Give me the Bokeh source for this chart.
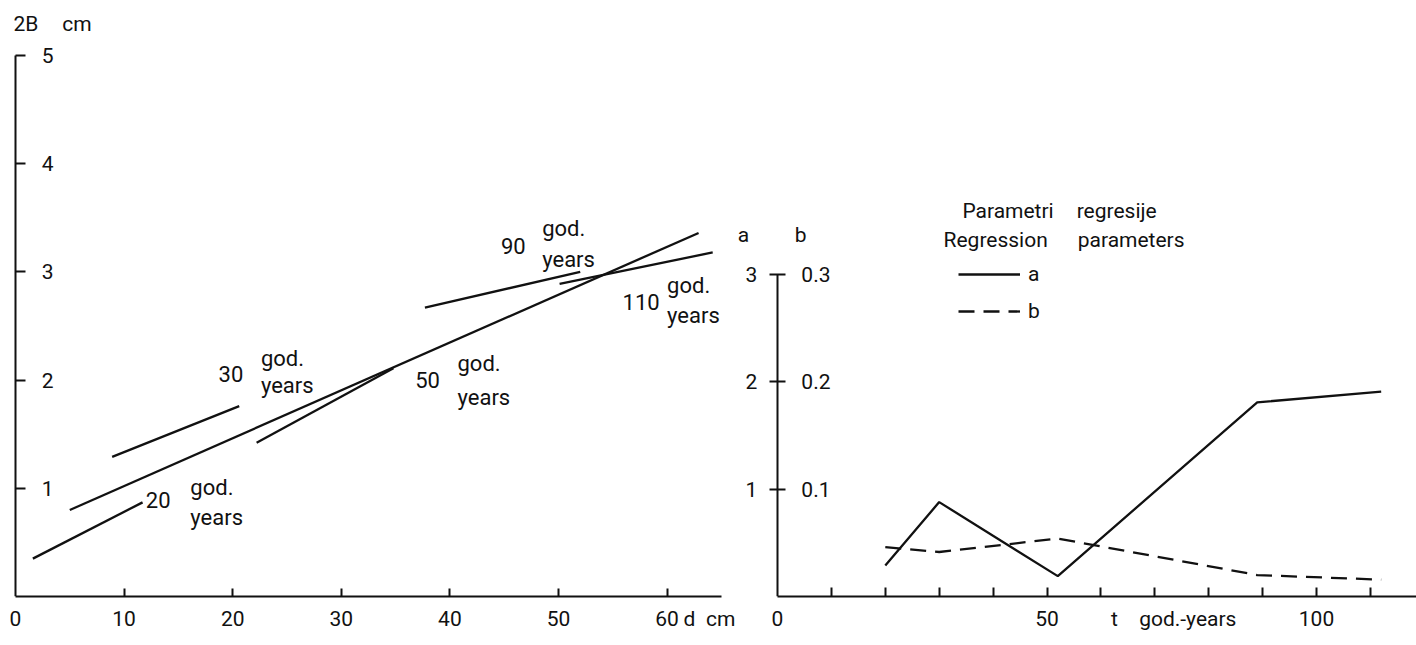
from bokeh.plotting import figure
from bokeh.models import Range1d, LinearAxis, FixedTicker, Legend, LegendItem
from bokeh.layouts import row
from bokeh.embed import file_html
from bokeh.resources import INLINE
from bokeh.core.properties import value

# ---------------- data: left panel, 2B (cm) against d (cm), regression lines
seg_d_start = [1.6, 8.9, 5.0, 22.2, 37.7, 50.1]
seg_2b_start = [0.35, 1.29, 0.80, 1.42, 2.67, 2.89]
seg_d_end = [11.7, 20.6, 62.9, 34.8, 52.0, 64.2]
seg_2b_end = [0.87, 1.76, 3.36, 2.11, 3.00, 3.18]
age_labels = ["20", "30", "50", "90", "110"]
d_ticks = [0, 10, 20, 30, 40, 50, 60]
twoB_ticks = [1, 2, 3, 4, 5]

# ---------------- data: right panel, regression parameters against age t
t_years = [20, 30, 52, 89, 112]
a_values = [0.29, 0.88, 0.19, 1.81, 1.91]
b_values = [0.046, 0.0415, 0.054, 0.020, 0.0157]
t_ticks = [0, 50, 100]
t_minor = [10, 20, 30, 40, 50, 60, 70, 80, 90, 100, 110]
a_ticks = [1, 2, 3]
b_ticks = [0.1, 0.2, 0.3]

FONT = "Roboto"
INK = "#111111"
TICK_FS = "21px"
ANN_FS = "22px"

H = 645
W1 = 735
W2 = 1416 - W1

# ---------------- left figure
L_X0 = 15.0      # pixel of d = 0
L_PXD = 10.86    # px per cm of d
L_Y0 = 596.0     # pixel of 2B = 0
L_PXB = 108.2    # px per cm of 2B

p1 = figure(width=W1, height=H,
            x_range=Range1d(-L_X0 / L_PXD, (W1 - L_X0) / L_PXD),
            y_range=Range1d(0, L_Y0 / L_PXB),
            x_axis_type=None, y_axis_type=None,
            output_backend="svg", toolbar_location=None,
            min_border_left=0, min_border_right=0, min_border_top=0,
            min_border_bottom=int(H - L_Y0))
p1.outline_line_color = None

D_LABEL_POS = 64.1
xax1 = LinearAxis(ticker=FixedTicker(ticks=d_ticks + [D_LABEL_POS], minor_ticks=d_ticks[1:]),
                  bounds=(0, 65),
                  major_label_overrides={D_LABEL_POS: "d\u2002cm"})
xax1.major_tick_in = 0
xax1.major_tick_out = 0
xax1.minor_tick_in = 8
xax1.minor_tick_out = 0
xax1.major_label_standoff = 10
p1.add_layout(xax1, "below")

yax1 = LinearAxis(ticker=FixedTicker(ticks=twoB_ticks), bounds=(0, 5), fixed_location=0)
yax1.major_tick_in = 10
yax1.major_tick_out = 0
yax1.minor_tick_in = 0
yax1.minor_tick_out = 0
yax1.major_label_standoff = -38
p1.add_layout(yax1, "left")

for ax in (xax1, yax1):
    ax.axis_line_color = INK
    ax.axis_line_width = 2
    ax.major_tick_line_color = INK
    ax.major_tick_line_width = 2
    ax.minor_tick_line_color = INK
    ax.minor_tick_line_width = 2
    ax.major_label_text_font = FONT
    ax.major_label_text_font_size = TICK_FS
    ax.major_label_text_color = INK

p1.segment(x0=seg_d_start, y0=seg_2b_start, x1=seg_d_end, y1=seg_2b_end,
           line_color=INK, line_width=2.3)

# annotation positions (label placement only)
age_x = [12.0, 18.7, 36.8, 44.7, 55.9]
age_y = [0.89, 2.06, 2.00, 3.24, 2.72]
god_x = [16.1, 22.6, 40.7, 48.5, 60.0]
god_y = [1.01, 2.20, 2.15, 3.40, 2.87]
years_y = [0.73, 1.95, 1.84, 3.11, 2.60]

p1.text(x=age_x, y=age_y, text=age_labels, text_font=value(FONT), text_font_size=value(ANN_FS),
        text_color=INK, text_baseline="middle", text_align="left")
p1.text(x=god_x, y=god_y, text=["god."] * len(god_x), text_font=value(FONT),
        text_font_size=value(ANN_FS), text_color=INK, text_baseline="middle", text_align="left")
p1.text(x=god_x, y=years_y, text=["years"] * len(god_x), text_font=value(FONT),
        text_font_size=value(ANN_FS), text_color=INK, text_baseline="middle", text_align="left")
p1.text(x=[-0.18, 4.3], y=[5.29, 5.29], text=["2B", "cm"], text_font=value(FONT),
        text_font_size=value(TICK_FS), text_color=INK, text_baseline="middle", text_align="left")

# ---------------- right figure
R_X0 = 777.0 - W1   # pixel (within figure) of t = 0
R_PXT = 5.39        # px per year
R_Y0 = 602.0        # pixel of a = 0
R_PXA = 108.33      # px per unit of a

p2 = figure(width=W2, height=H,
            x_range=Range1d(-R_X0 / R_PXT, (W2 - R_X0) / R_PXT),
            y_range=Range1d(0, R_Y0 / R_PXA),
            x_axis_type=None, y_axis_type=None,
            output_backend="svg", toolbar_location=None,
            min_border_left=0, min_border_right=0, min_border_top=0,
            min_border_bottom=int(H - R_Y0))
p2.extra_y_ranges = {"b": Range1d(0, R_Y0 / R_PXA / 10.0)}
p2.outline_line_color = None

T_LABEL_POS = 73.5
xax2 = LinearAxis(ticker=FixedTicker(ticks=t_ticks + [T_LABEL_POS], minor_ticks=t_minor),
                  bounds=(0, (W2 - R_X0) / R_PXT),
                  major_label_overrides={T_LABEL_POS: "t\u2003god.-years"})
xax2.major_tick_in = 0
xax2.major_tick_out = 0
xax2.minor_tick_in = 9
xax2.minor_tick_out = 0
xax2.major_label_standoff = 10
p2.add_layout(xax2, "below")

yax_a = LinearAxis(ticker=FixedTicker(ticks=a_ticks), bounds=(0, 3), fixed_location=0)
yax_a.major_tick_in = 8
yax_a.major_tick_out = 8
yax_a.minor_tick_in = 0
yax_a.minor_tick_out = 0
yax_a.major_label_standoff = -40
p2.add_layout(yax_a, "right")

yax_b = LinearAxis(y_range_name="b", ticker=FixedTicker(ticks=b_ticks), fixed_location=0,
                   major_label_overrides={0.1: "0.1", 0.2: "0.2", 0.3: "0.3"})
yax_b.axis_line_color = None
yax_b.major_tick_line_color = None
yax_b.major_tick_in = 0
yax_b.major_tick_out = 0
yax_b.minor_tick_in = 0
yax_b.minor_tick_out = 0
yax_b.major_label_standoff = -53
p2.add_layout(yax_b, "left")

for ax in (xax2, yax_a):
    ax.axis_line_color = INK
    ax.axis_line_width = 2
    ax.major_tick_line_color = INK
    ax.major_tick_line_width = 2
    ax.minor_tick_line_color = INK
    ax.minor_tick_line_width = 2
for ax in (xax2, yax_a, yax_b):
    ax.major_label_text_font = FONT
    ax.major_label_text_font_size = TICK_FS
    ax.major_label_text_color = INK

r_a = p2.line(t_years, a_values, line_color=INK, line_width=2.3)
r_b = p2.line(t_years, b_values, y_range_name="b", line_color=INK, line_width=2.3, line_dash="16 9")

legend = Legend(items=[LegendItem(label="a", renderers=[r_a]),
                       LegendItem(label="b", renderers=[r_b])],
                location=(223, int(R_Y0 - 332)),
                orientation="vertical",
                glyph_width=62, glyph_height=30, label_height=30, spacing=7,
                label_standoff=8, padding=0, margin=0,
                border_line_color=None, background_fill_alpha=0,
                label_text_font=FONT, label_text_font_size=TICK_FS, label_text_color=INK)
p2.add_layout(legend)

# headers and legend title (placement only)
p2.text(x=[-6.3, 4.3], y=[3.37, 3.37], text=["a", "b"], text_font=value(FONT),
        text_font_size=value(TICK_FS), text_color=INK, text_baseline="middle", text_align="center")
p2.text(x=[34.3, 55.5, 30.8, 55.7], y=[3.595, 3.595, 3.323, 3.323],
        text=["Parametri", "regresije", "Regression", "parameters"],
        text_font=value(FONT), text_font_size=value(TICK_FS), text_color=INK,
        text_baseline="middle", text_align="left")

layout = row(p1, p2, spacing=0)
open("out.html", "w").write(file_html(layout, INLINE))
